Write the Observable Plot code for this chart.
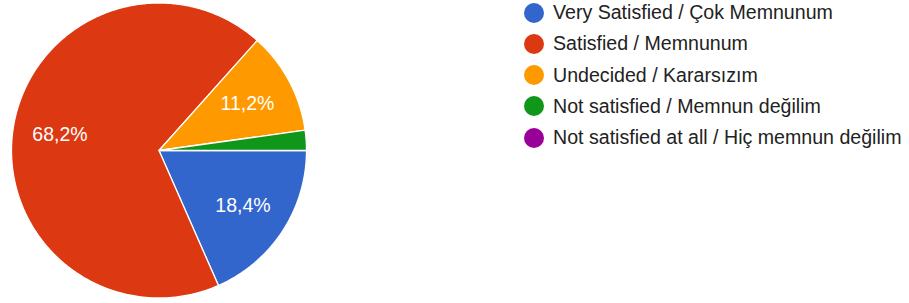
<!DOCTYPE html>
<html>
<head>
<meta charset="utf-8">
<script src="https://cdn.jsdelivr.net/npm/d3@7"></script>
<script src="https://cdn.jsdelivr.net/npm/@observablehq/plot@0.6"></script>
<style>
  html, body { margin: 0; padding: 0; background: #fff; }
  #wrap { position: relative; width: 909px; height: 303px; overflow: hidden; }
  #legend { position: absolute; left: 524px; top: -3px; font-family: "Liberation Sans", Arial, sans-serif; font-size: 19.6px; color: #222; }
  .row { display: flex; align-items: center; height: 31.25px; white-space: nowrap; }
  .sw { width: 20px; height: 20px; border-radius: 50%; margin-right: 9px; flex: none; }
</style>
</head>
<body>
<div id="wrap"><div id="legend"></div></div>
<script>
const categories = [
  "Very Satisfied / Çok Memnunum",
  "Satisfied / Memnunum",
  "Undecided / Kararsızım",
  "Not satisfied / Memnun değilim",
  "Not satisfied at all / Hiç memnun değilim"
];
const values = [18.4, 68.2, 11.2, 2.2, 0];
const colors = ["#3366cc", "#dc3912", "#ff9900", "#109618", "#990099"];

const W = 909, H = 303, CX = 158.5, CY = 150, R = 147.5;

// build wedge outlines in unit-circle coordinates (clockwise from 3 o'clock)
const total = d3.sum(values);
const outline = [];
const labels = [];
let acc = 0;
categories.forEach((c, i) => {
  const a0 = acc / total * 2 * Math.PI;
  acc += values[i];
  const a1 = acc / total * 2 * Math.PI;
  if (values[i] <= 0) return;
  outline.push({cat: c, x: 0, y: 0});
  const n = Math.max(2, Math.ceil((a1 - a0) / 0.01));
  for (let k = 0; k <= n; k++) {
    const a = a0 + (a1 - a0) * k / n;
    outline.push({cat: c, x: Math.cos(a), y: -Math.sin(a)});
  }
  outline.push({cat: c, x: 0, y: 0});
  if (values[i] / total >= 0.05) {
    const am = (a0 + a1) / 2;
    labels.push({x: 0.68 * Math.cos(am), y: -0.68 * Math.sin(am),
      text: values[i].toFixed(1).replace(".", ",") + "%"});
  }
});

const chart = Plot.plot({
  width: W, height: H,
  margin: 0,
  x: {domain: [-CX / R, (W - CX) / R], axis: null},
  y: {domain: [-(H - CY) / R, CY / R], axis: null},
  color: {domain: categories, range: colors},
  style: {background: "transparent"},
  marks: [
    Plot.line(outline, {x: "x", y: "y", z: "cat", fill: "cat", stroke: "white", strokeWidth: 1.3, strokeLinejoin: "round", curve: "linear"}),
    Plot.text(labels, {x: "x", y: "y", text: "text", fill: "white", fontSize: 19.5, fontFamily: "Liberation Sans, Arial, sans-serif"})
  ]
});
document.getElementById("wrap").prepend(chart);

const leg = d3.select("#legend");
categories.forEach((c, i) => {
  const row = leg.append("div").attr("class", "row");
  row.append("div").attr("class", "sw").style("background", colors[i]);
  row.append("span").text(c);
});
</script>
</body>
</html>
